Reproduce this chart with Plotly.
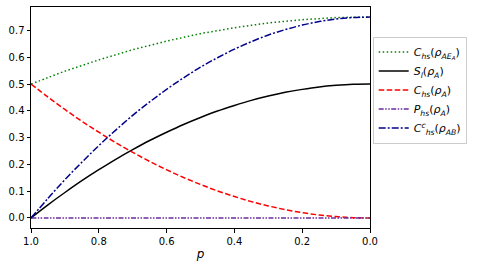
import plotly.graph_objects as go

p = [1.0, 0.95, 0.9, 0.85, 0.8, 0.75, 0.7, 0.65, 0.6, 0.55, 0.5,
     0.45, 0.4, 0.35, 0.3, 0.25, 0.2, 0.15, 0.1, 0.05, 0.0]

c_hs_ae = [0.5, 0.524, 0.548, 0.569, 0.59, 0.609, 0.628, 0.644, 0.66, 0.674, 0.688,
           0.699, 0.71, 0.719, 0.728, 0.734, 0.74, 0.744, 0.748, 0.749, 0.75]
s_l = [0.0, 0.049, 0.095, 0.139, 0.18, 0.219, 0.255, 0.289, 0.32, 0.349, 0.375,
       0.399, 0.42, 0.439, 0.455, 0.469, 0.48, 0.489, 0.495, 0.499, 0.5]
c_hs_a = [0.5, 0.451, 0.405, 0.361, 0.32, 0.281, 0.245, 0.211, 0.18, 0.151, 0.125,
          0.101, 0.08, 0.061, 0.045, 0.031, 0.02, 0.011, 0.005, 0.001, 0.0]
p_hs_a = [0.0] * 21
c_hs_c_ab = [0.0, 0.073, 0.143, 0.208, 0.27, 0.328, 0.383, 0.433, 0.48, 0.523, 0.563,
             0.598, 0.63, 0.658, 0.683, 0.703, 0.72, 0.733, 0.743, 0.748, 0.75]

names = [
    "<i>C<sub>hs</sub></i>(<i>ρ<sub>AE<sub>A</sub></sub></i>)",
    "<i>S<sub>l</sub></i>(<i>ρ<sub>A</sub></i>)",
    "<i>C<sub>hs</sub></i>(<i>ρ<sub>A</sub></i>)",
    "<i>P<sub>hs</sub></i>(<i>ρ<sub>A</sub></i>)",
    "<i>C<sup>c</sup><sub>hs</sub></i>(<i>ρ<sub>AB</sub></i>)",
]
series = [c_hs_ae, s_l, c_hs_a, p_hs_a, c_hs_c_ab]
colors = ["#008000", "#000000", "#ff0000", "#6a2c9e", "#00008b"]
dashes = ["1.5px,2.5px", "solid", "5.5px,2.5px", "5px,1.5px,1.5px,1.5px,1.5px,1.5px", "7px,2px,2px,2px"]

fig = go.Figure()
for n, s, c, d in zip(names, series, colors, dashes):
    fig.add_trace(go.Scatter(x=p, y=s, mode="lines", name=n,
                             line=dict(color=c, width=1.5, dash=d, shape="spline")))

axis_common = dict(showline=True, linecolor="black", linewidth=1, mirror=True,
                   ticks="outside", ticklen=3.5, tickcolor="black", showgrid=False,
                   zeroline=False, automargin=False, tickfont=dict(size=10, color="black"))

fig.update_layout(
    width=477, height=268,
    margin=dict(l=31, r=107, t=7, b=40),
    paper_bgcolor="white", plot_bgcolor="white",
    font=dict(family="DejaVu Sans", size=10, color="black"),
    xaxis=dict(range=[1.0, 0.0], tickvals=[1.0, 0.8, 0.6, 0.4, 0.2, 0.0], tickformat=".1f",
               title=dict(text="<i>p</i>", font=dict(size=12), standoff=4), **axis_common),
    yaxis=dict(range=[-0.0375, 0.7875], tickvals=[0, 0.1, 0.2, 0.3, 0.4, 0.5, 0.6, 0.7],
               tickformat=".1f", **axis_common),
    legend=dict(x=1.008, y=0.866, xanchor="left", yanchor="top",
                bordercolor="#cccccc", borderwidth=1, bgcolor="white",
                font=dict(size=11), tracegroupgap=0, itemwidth=30),
    showlegend=True,
)

fig.write_html("out.html", config={"displayModeBar": False},
               post_script="document.body.style.margin='0';")
